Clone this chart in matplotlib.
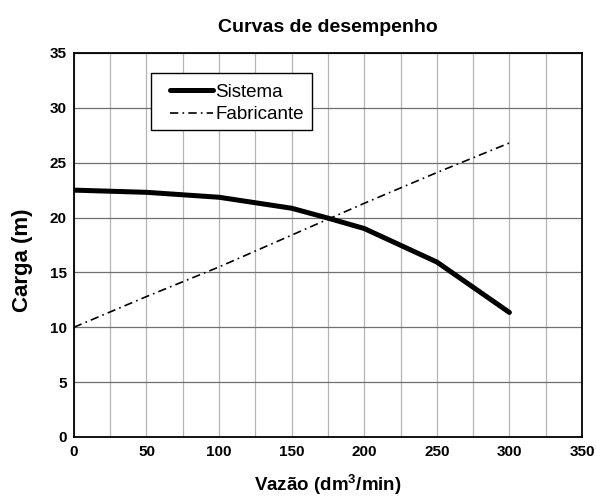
import matplotlib
matplotlib.use("Agg")
import matplotlib.pyplot as plt
from matplotlib.ticker import MultipleLocator
from matplotlib.patches import Rectangle

plt.rcParams['font.family'] = ['Liberation Sans', 'DejaVu Sans']
plt.rcParams['mathtext.fontset'] = 'custom'
plt.rcParams['mathtext.rm'] = 'Liberation Sans'
plt.rcParams['mathtext.bf'] = 'Liberation Sans:bold'

vazao_sistema = [0, 50, 100, 150, 175, 200, 250, 300]
carga_sistema = [22.5, 22.3, 21.85, 20.85, 19.95, 19.0, 15.95, 11.35]
vazao_fabricante = [0, 50, 100, 150, 200, 250, 300]
carga_fabricante = [10.0, 12.8, 15.5, 18.4, 21.3, 24.1, 26.8]

xticks = [0, 50, 100, 150, 200, 250, 300, 350]
yticks = [0, 5, 10, 15, 20, 25, 30, 35]

fig = plt.figure(figsize=(5.96, 4.98), dpi=100)
ax = fig.add_axes([0.124, 0.1225, 0.8525, 0.7711])

ax.set_xlim(0, 350)
ax.set_ylim(0, 35)
ax.xaxis.set_minor_locator(MultipleLocator(25))
ax.set_xticks(xticks)
ax.set_yticks(yticks)
ax.grid(True, which='both', axis='x', color='#b4b4b4', linewidth=0.9)
ax.grid(True, which='major', axis='y', color='#707070', linewidth=0.9)
ax.set_axisbelow(True)
ax.tick_params(which='both', length=0)
ax.tick_params(axis='x', pad=6)
ax.tick_params(axis='y', pad=5)
for lab in ax.get_xticklabels() + ax.get_yticklabels():
    lab.set_fontweight('bold')
    lab.set_fontsize(11)

ax.plot(vazao_sistema, carga_sistema, color='black', linewidth=3.6,
        solid_joinstyle='round', solid_capstyle='round', label='Sistema')
ax.plot(vazao_fabricante, carga_fabricante, color='black', linewidth=1.2,
        linestyle=(0, (5, 2.5, 1, 2.5)), label='Fabricante')

for s in ax.spines.values():
    s.set_linewidth(1.3)
    s.set_color('black')

ax.set_title('Curvas de desempenho', fontsize=14, fontweight='bold', pad=15)
ax.set_xlabel('Vazão (dm$^{\\mathbf{3}}$/min)', fontsize=13.5, fontweight='bold')
ax.xaxis.set_label_coords(0.5, -0.092)
ax.set_ylabel('Carga (m)', fontsize=16, fontweight='bold')
ax.yaxis.set_label_coords(-0.08, 0.461)

# legend frame
ax.add_patch(Rectangle((0.1516, 0.800), 0.3169, 0.148, transform=ax.transAxes,
                       facecolor='white', edgecolor='black', linewidth=1.0,
                       zorder=4))
leg = ax.legend(loc='center left', bbox_to_anchor=(0.19, 0.868), frameon=False,
                fontsize=13.5, handlelength=2.25, handletextpad=0.15,
                borderpad=0, labelspacing=0.28, borderaxespad=0)
leg.set_zorder(5)

fig.savefig('out.png', dpi=100)
